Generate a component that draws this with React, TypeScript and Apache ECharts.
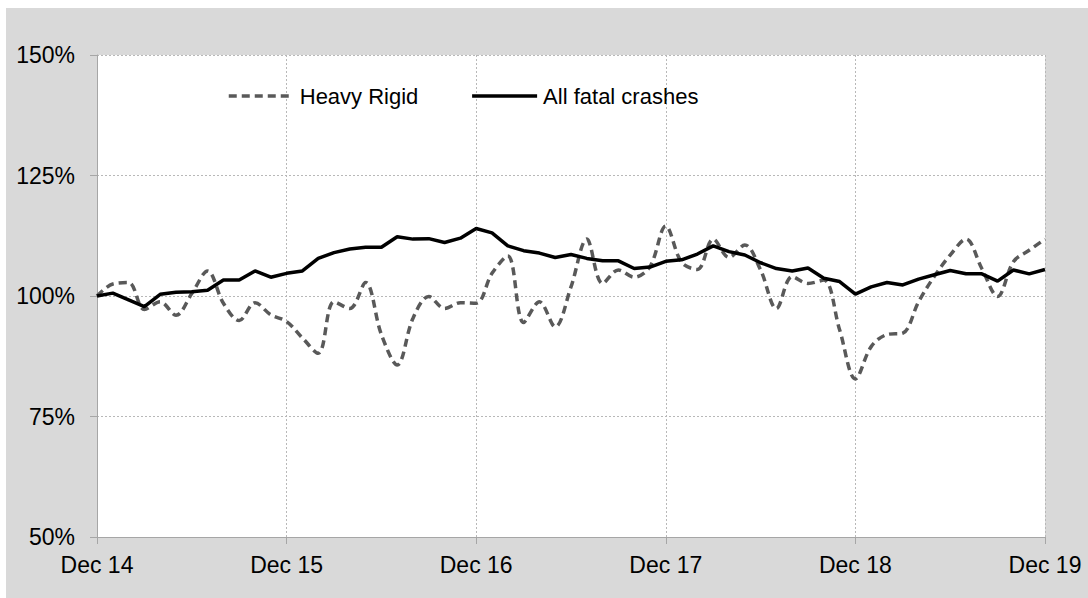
import React, { useEffect, useRef } from "react";
import * as echarts from "echarts";

const monthNames = ["Dec", "Jan", "Feb", "Mar", "Apr", "May", "Jun", "Jul", "Aug", "Sep", "Oct", "Nov"];
const years = [14, 15, 16, 17, 18, 19];

const categories: string[] = [];
years.forEach((y, yi) => {
  if (yi === years.length - 1) {
    categories.push(`Dec ${y}`);
    return;
  }
  monthNames.forEach((m, mi) => {
    categories.push(mi === 0 ? `Dec ${y}` : `${m} ${y + 1}`);
  });
});

const heavyRigid = [
  100, 102.5, 102.8, 97.2, 98.8, 96.0, 100.5, 105.2, 98.5, 94.9, 98.6, 96.1,
  94.7, 91.3, 88.1, 98.8, 97.4, 102.8, 92.0, 85.7, 95.4, 99.9, 97.4, 98.6,
  98.5, 104.7, 108.3, 94.5, 98.8, 93.6, 101.9, 111.8, 102.6, 105.4, 103.9, 106.1,
  114.5, 107.0, 105.5, 111.8, 108.0, 110.6, 105.4, 97.4, 104.0, 102.6, 103.3, 93.0,
  82.8, 89.5, 92.0, 92.3, 98.8, 104.1, 108.5, 111.8, 105.7, 99.9, 107.1, 109.5,
  111.8,
];

const allFatal = [
  100, 100.6, 99.2, 97.8, 100.35, 100.8, 100.9, 101.2, 103.3, 103.3, 105.2, 103.9,
  104.7, 105.2, 107.8, 109.0, 109.75, 110.1, 110.1, 112.3, 111.8, 111.9, 111.1, 112.0,
  114.0, 113.1, 110.4, 109.4, 108.9, 108.0, 108.6, 107.8, 107.3, 107.3, 105.7, 106.0,
  107.2, 107.5, 108.7, 110.4, 109.2, 108.5, 106.9, 105.7, 105.2, 105.8, 103.7, 103.0,
  100.4, 101.9, 102.8, 102.3, 103.5, 104.4, 105.3, 104.6, 104.6, 103.1, 105.4, 104.6,
  105.5,
];

const FONT = "'Liberation Sans', Arial, sans-serif";

export default function App() {
  const ref = useRef<HTMLDivElement>(null);
  useEffect(() => {
    if (!ref.current) return;
    const chart = echarts.init(ref.current, null, { renderer: "svg" });
    chart.setOption({
      animation: false,
      backgroundColor: "#d9d9d9",
      textStyle: { fontFamily: FONT },
      grid: { left: 91, right: 43, top: 47, bottom: 61, show: true, backgroundColor: "#ffffff", borderWidth: 0 },
      legend: {
        left: 216,
        top: 72,
        itemWidth: 65,
        itemHeight: 14,
        itemGap: 52,
        itemStyle: { opacity: 0 },
        textStyle: { fontSize: 22, color: "#000", fontFamily: FONT, padding: [0, 0, 0, 1] },
        data: [
          { name: "Heavy Rigid", lineStyle: { width: 3.5, color: "#595959", type: [8, 5] } },
          { name: "All fatal crashes", lineStyle: { width: 3.5, color: "#000000", type: "solid" } },
        ],
      },
      xAxis: {
        type: "category",
        data: categories,
        boundaryGap: false,
        axisLine: { lineStyle: { color: "#a6a6a6", width: 1 } },
        axisTick: { interval: 11, length: 7, lineStyle: { color: "#a6a6a6" } },
        axisLabel: { interval: 11, fontSize: 23, color: "#000", margin: 16, fontFamily: FONT },
        splitLine: { show: true, interval: 11, lineStyle: { color: "#b8b8b8", type: [2, 2], width: 1 } },
      },
      yAxis: {
        type: "value",
        min: 50,
        max: 150,
        interval: 25,
        axisLine: { show: true, lineStyle: { color: "#a6a6a6", width: 1 } },
        axisTick: { show: true, length: 7, lineStyle: { color: "#a6a6a6" } },
        axisLabel: { fontSize: 23, color: "#000", margin: 22, formatter: (v: number) => `${v}%`, fontFamily: FONT },
        splitLine: { show: true, lineStyle: { color: "#b8b8b8", type: [2, 2], width: 1 } },
      },
      series: [
        {
          name: "Heavy Rigid",
          type: "line",
          data: heavyRigid,
          smooth: 0.35,
          symbol: "none",
          lineStyle: { color: "#595959", width: 3.5, type: [8, 5] },
          itemStyle: { color: "#595959" },
          z: 2,
        },
        {
          name: "All fatal crashes",
          type: "line",
          data: allFatal,
          smooth: false,
          symbol: "none",
          lineStyle: { color: "#000000", width: 3.5 },
          itemStyle: { color: "#000000" },
          z: 3,
        },
      ],
    });
    return () => chart.dispose();
  }, []);
  return <div ref={ref} style={{ position: "absolute", left: 6, top: 8, width: 1082, height: 590 }} />;
}
